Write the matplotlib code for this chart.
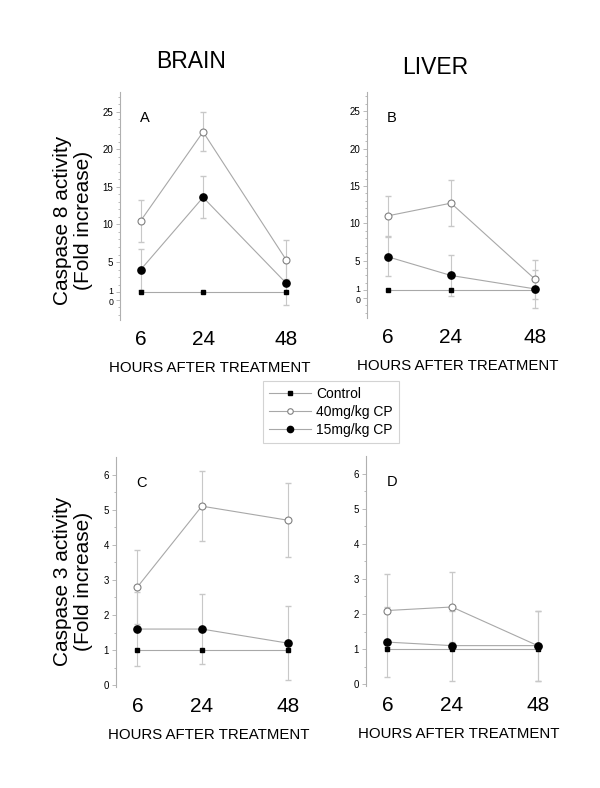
import numpy as np
import matplotlib
matplotlib.use("Agg")
import matplotlib.pyplot as plt
import matplotlib.transforms as mtransforms

plt.rcParams['font.family'] = ['Liberation Sans', 'DejaVu Sans']

hours = [6, 24, 48]

# caspase 8 (fold increase)
brain8_ctrl = [1.0, 1.0, 1.0]
brain8_40 = [10.5, 22.3, 5.3]
brain8_40_err = [2.8, 2.6, 2.6]
brain8_15 = [4.0, 13.6, 2.2]
brain8_15_err = [2.7, 2.8, 2.9]

liver8_ctrl = [1.0, 1.0, 1.0]
liver8_40 = [11.0, 12.7, 2.5]
liver8_40_err = [2.7, 3.1, 2.6]
liver8_15 = [5.5, 3.0, 1.2]
liver8_15_err = [2.6, 2.8, 2.6]

# caspase 3 (fold increase)
brain3_ctrl = [1.0, 1.0, 1.0]
brain3_40 = [2.8, 5.1, 4.7]
brain3_40_err = [1.05, 1.0, 1.05]
brain3_15 = [1.6, 1.6, 1.2]
brain3_15_err = [1.05, 1.0, 1.06]

liver3_ctrl = [1.0, 1.0, 1.0]
liver3_40 = [2.1, 2.2, 1.1]
liver3_40_err = [1.05, 1.0, 1.0]
liver3_15 = [1.2, 1.1, 1.1]
liver3_15_err = [1.0, 1.0, 1.0]

line_c = '#a8a8a8'
err_c = '#c8c8c8'

W, H = 600, 788
fig = plt.figure(figsize=(6, 7.88), dpi=100)


def px_axes(left, top, right, bottom):
    return fig.add_axes([left / W, 1 - bottom / H, (right - left) / W, (bottom - top) / H])


def panel(ax, ctrl, d40, e40, d15, e15, ylim, yticks, minor, letter):
    ax.errorbar(hours, d40, yerr=e40, fmt='none', ecolor=err_c, elinewidth=0.8, capsize=2)
    ax.errorbar(hours, d15, yerr=e15, fmt='none', ecolor=err_c, elinewidth=0.8, capsize=2)
    ax.plot(hours, ctrl, color=line_c, lw=0.8, marker='s', ms=2.8, mfc='black', mec='black')
    ax.plot(hours, d40, color=line_c, lw=0.8, marker='o', ms=5, mfc='white', mec='#808080', mew=0.8)
    ax.plot(hours, d15, color=line_c, lw=0.8, marker='o', ms=5.2, mfc='black', mec='black')
    ax.set_xlim(0, 52)
    ax.set_ylim(*ylim)
    for s in ['top', 'right', 'bottom']:
        ax.spines[s].set_visible(False)
    ax.spines['left'].set_color('#b0b0b0')
    ax.spines['left'].set_linewidth(0.8)
    ax.set_xticks(hours)
    ax.set_xticklabels([str(h) for h in hours], fontsize=15)
    ax.tick_params(axis='x', length=0, pad=7)
    ax.set_yticks(yticks)
    ax.set_yticklabels([str(t) for t in yticks], fontsize=7)
    ax.set_yticks(minor, minor=True)
    ax.tick_params(axis='y', which='both', color='#b0b0b0', width=0.6, pad=2)
    ax.tick_params(axis='y', which='major', length=3)
    ax.tick_params(axis='y', which='minor', length=1.5)
    ax.set_xlabel('HOURS AFTER TREATMENT', fontsize=10.8, labelpad=9)
    ax.text(0.11, 0.885, letter, transform=ax.transAxes, fontsize=10.5, va='center')
    ax.patch.set_alpha(0)


ticks8 = [0, 1, 5, 10, 15, 20, 25]
minor8 = list(range(-2, 28))
ticks3 = [0, 1, 2, 3, 4, 5, 6]
minor3 = list(np.arange(0, 6.5, 0.5))

axA = px_axes(120, 92, 300, 320)
panel(axA, brain8_ctrl, brain8_40, brain8_40_err, brain8_15, brain8_15_err,
      (-2.7, 27.6), ticks8, minor8, 'A')
axB = px_axes(367, 92, 549, 318)
panel(axB, liver8_ctrl, liver8_40, liver8_40_err, liver8_15, liver8_15_err,
      (-2.7, 27.6), ticks8, minor8, 'B')
axC = px_axes(116, 457, 302, 687)
panel(axC, brain3_ctrl, brain3_40, brain3_40_err, brain3_15, brain3_15_err,
      (-0.05, 6.5), ticks3, minor3, 'C')
axD = px_axes(366, 456, 552, 686)
panel(axD, liver3_ctrl, liver3_40, liver3_40_err, liver3_15, liver3_15_err,
      (-0.05, 6.5), ticks3, minor3, 'D')

# the "0" and "1" labels sit very close on the caspase 8 axes; pull them apart a touch
for ax in (axA, axB):
    labs = ax.get_yticklabels()
    labs[0].set_fontsize(6.3)
    labs[1].set_fontsize(6.3)
    labs[0].set_transform(labs[0].get_transform() + mtransforms.ScaledTranslation(0, -1.5 / 100, fig.dpi_scale_trans))
    labs[1].set_transform(labs[1].get_transform() + mtransforms.ScaledTranslation(0, 1.5 / 100, fig.dpi_scale_trans))

fig.text(191 / W, 1 - 61 / H, 'BRAIN', fontsize=16.5, ha='center', va='center')
fig.text(435 / W, 1 - 67 / H, 'LIVER', fontsize=16.5, ha='center', va='center')

fig.text(73 / W, 1 - 220 / H, 'Caspase 8 activity\n(Fold increase)', fontsize=15,
         rotation=90, ha='center', va='center', linespacing=1.15)
fig.text(73 / W, 1 - 581 / H, 'Caspase 3 activity\n(Fold increase)', fontsize=15,
         rotation=90, ha='center', va='center', linespacing=1.15)

# legend built from the same styled lines
h_ctrl, = axA.plot([], [], color=line_c, lw=0.8, marker='s', ms=3.5, mfc='black', mec='black')
h_40, = axA.plot([], [], color=line_c, lw=0.8, marker='o', ms=4, mfc='white', mec='#808080', mew=0.8)
h_15, = axA.plot([], [], color=line_c, lw=0.8, marker='o', ms=4.5, mfc='black', mec='black')
leg = fig.legend([h_ctrl, h_40, h_15], ['Control', '40mg/kg CP', '15mg/kg CP'],
                 loc='center', bbox_to_anchor=(331 / W, 1 - 412 / H), fontsize=10,
                 frameon=True, fancybox=False, handlelength=3.0, handletextpad=0.4,
                 labelspacing=0.3, borderpad=0.45, borderaxespad=0)
leg.get_frame().set_edgecolor('#c8c8c8')
leg.get_frame().set_linewidth(0.8)

fig.savefig('out.png', dpi=100)
